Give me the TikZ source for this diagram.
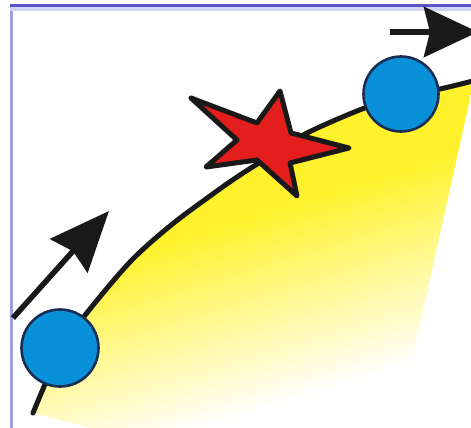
\documentclass[tikz,border=0pt]{standalone}
\usetikzlibrary{arrows.meta}
\definecolor{sunY}{RGB}{255,242,45}
\definecolor{ballB}{RGB}{8,144,216}
\definecolor{ballE}{RGB}{25,45,85}
\definecolor{starR}{RGB}{228,30,28}
\definecolor{frameD}{RGB}{85,85,195}
\definecolor{frameL}{RGB}{210,210,242}
\definecolor{frameM}{RGB}{160,160,225}
\begin{document}
\begin{tikzpicture}[x=1pt,y=-1pt,
  trackline/.style={line width=5pt, black!90, line cap=round},
  ball/.style={circle, fill=ballB, draw=ballE, line width=2.6pt, inner sep=0pt},
  starshape/.style={fill=starR, draw=black!90, line width=5pt, line join=round},
  motion/.style={line width=5.5pt, black!90}
]
\useasboundingbox (0,0) rectangle (471,428);
\clip (0,0) rectangle (471,428);
\fill[white] (0,0) rectangle (471,428);
% yellow glow under the track
\begin{scope}
  \clip plot[smooth,tension=0.55] coordinates {(33,413) (43,389) (60,350) (86,314) (130,262) (170,226) (210,196) (240,175) (275,153) (307,133) (362,109) (400,97) (440,89) (473,81)} -- (473,85) -- (397,428) -- (90,428) -- cycle;
  \begin{scope}[rotate=17]
    \fill[sunY] (-900,-900) rectangle (900,281);
    \foreach \k in {0,...,59}{
      \pgfmathsetmacro{\sa}{280+\k*190/60}
      \pgfmathsetmacro{\sb}{\sa+190/60+0.6}
      \pgfmathsetmacro{\pc}{100-(\k+0.5)*100/60}
      \fill[sunY!\pc!white] (-900,\sa) rectangle (900,\sb);
    }
  \end{scope}
\end{scope}
% frame
\fill[frameM] (10,4) rectangle (13,428);
\fill[frameL] (10,7) rectangle (471,11);
\fill[frameD] (10,4) rectangle (471,7);
% track
\draw[trackline] plot[smooth,tension=0.55] coordinates {(33,413) (43,389) (60,350) (86,314) (130,262) (170,226) (210,196) (240,175) (275,153) (307,133) (362,109) (400,97) (440,89) (473,81)};
% motion arrows
\coordinate (a1s) at (13,318);
\coordinate (a1e) at (109,211);
\coordinate (a2s) at (390,32);
\coordinate (a2e) at (478,32);
\draw[motion, -{Stealth[length=60pt,width=50pt,inset=6pt]}] (a1s) -- (a1e);
\draw[motion, line width=6pt, -{Stealth[length=54pt,width=50pt,inset=6pt]}] (a2s) -- (a2e);
% particles
\node[ball, minimum size=77pt] (b1) at (60,348) {};
\node[ball, minimum size=75pt] (b2) at (401,94) {};
% collision star
\draw[starshape] (191,98) -- (257,123) -- (280,91) -- (291,133) -- (349,148) -- (290,163) -- (297,196) -- (257,160) -- (206,167) -- (237,140) -- cycle;
\end{tikzpicture}
\end{document}
